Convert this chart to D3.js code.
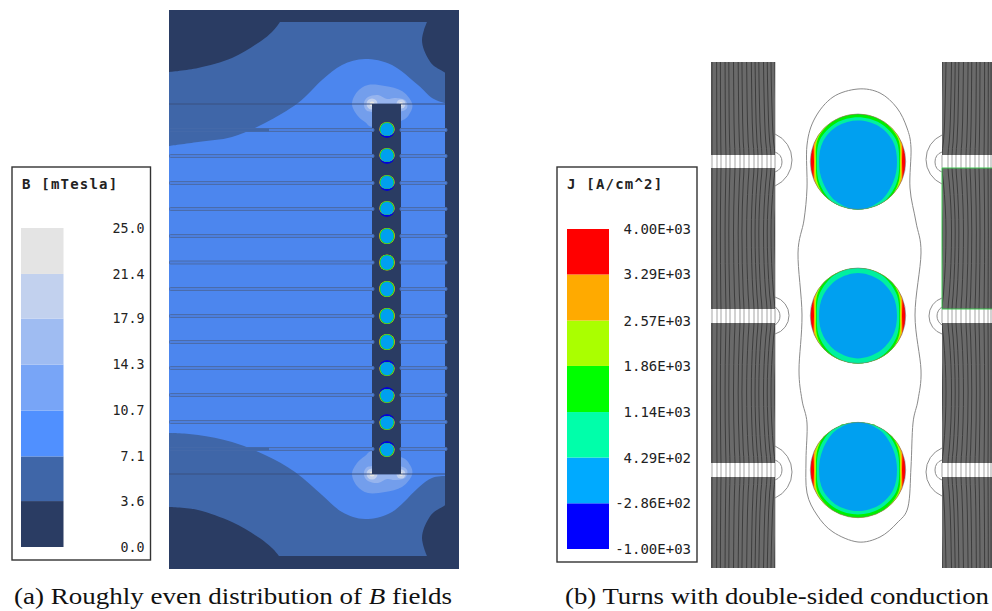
<!DOCTYPE html>
<html>
<head>
<meta charset="utf-8">
<style>
  html, body { margin: 0; padding: 0; background: #fff; }
  svg { display: block; }
  .legend-title, .legend-axis text { font-family: "DejaVu Sans Mono", monospace; fill: #222; }
  .caption { font-family: "Liberation Serif", serif; font-size: 23px; fill: #111; }
</style>
</head>
<body>
<div id="chart"></div>
<script src="https://cdn.jsdelivr.net/npm/d3@7"></script>
<script>
// Legend values
const bTicks = [0, 3.6, 7.1, 10.7, 14.3, 17.9, 21.4, 25.0];
const bLabels = ["0.0", "3.6", "7.1", "10.7", "14.3", "17.9", "21.4", "25.0"];
const bColors = ["#2a3c63", "#3f66a8", "#5090ff", "#78a5f7", "#9fbcf2", "#c2d1ee", "#e4e4e4"];
const jTicks = [-1000, -286, 429, 1140, 1860, 2570, 3290, 4000];
const jLabels = ["-1.00E+03", "-2.86E+02", "4.29E+02", "1.14E+03", "1.86E+03", "2.57E+03", "3.29E+03", "4.00E+03"];
const jColors = ["#0000ff", "#00aaff", "#00ffaa", "#00ff00", "#aaff00", "#ffaa00", "#ff0000"];

// Panel (a) field contours, in panel units
const darkTopLeft = [[0, 62], [29, 58], [63, 48], [89, 33], [103, 22], [111, 12]];
const darkBottomLeft = [[0, 497], [29, 500], [63, 512], [89, 527], [103, 538], [110, 546]];
const darkTopRight = [[258, 12], [255, 20], [253, 30], [255, 40], [260, 50], [265, 56], [275, 62], [276, 63]];
const darkBottomRight = [[258, 546], [255, 538], [253, 528], [255, 518], [260, 508], [265, 502], [275, 496], [276, 495]];
const blueTopEdge = [[0, 136], [29, 132], [63, 127], [96, 113], [129, 93], [153, 70], [173, 55], [196, 49], [223, 55], [249, 75], [263, 88], [276, 93]];
const blueBottomEdge = [[276, 466], [263, 468], [249, 478], [223, 502], [196, 509], [173, 502], [153, 485], [126, 462], [96, 445], [63, 432], [29, 425], [0, 423]];
const haloOuter = [[183, 94], [188, 82], [199, 75], [216, 76], [233, 81], [243, 93], [241, 103], [232, 111], [205, 117], [196, 112], [188, 105]];
const haloInner = [[195, 93], [199, 87], [209, 85], [218, 89], [226, 88], [236, 90], [238, 98], [229, 102], [205, 102], [197, 100]];
const hotSpots = [[203, 94, 5.5, 2.5], [232, 94, 4.5, 2]];
const turnRows = [120, 146, 173, 199, 226, 252.5, 279, 306, 332, 358, 385, 412, 439];
const turnKinds = ["top", "top", "top", "top", "mid", "mid", "mid", "mid", "mid", "bot", "bot", "bot", "bot"];

// Current density levels: inset from the conductor edge at each angle from the top
const levelAngles = [0, 30, 60, 90, 120, 150, 180];
const bigLevels = {
  top: [
    ["#ffaa00", [-8, -8, -1.6, 3.7, -1.6, -8, -10]],
    ["#aaff00", [-8, -5, 0.2, 4.8, 0.2, -5, -10]],
    ["#00ee00", [0, 0, 1.5, 5.7, 1.8, -3, -8]],
    ["#00f0a0", [3.3, 3.3, 3.8, 6.5, 3.5, -0.5, -5]],
    ["#00a0f0", [6.6, 6.6, 7.3, 8.7, 7, 2.5, -0.5]]
  ],
  mid: [
    ["#ffaa00", [-8, -8, -1.6, 3.7, -1.6, -8, -8]],
    ["#aaff00", [-8, -5, 0.2, 4.8, 0.2, -5, -8]],
    ["#00ee00", [-6, -2.5, 1.5, 5.7, 1.5, -2.5, -6]],
    ["#00f0a0", [-1, 0.8, 3.5, 6.5, 3.5, 0.8, -1]],
    ["#00a0f0", [5, 6, 7.5, 8.7, 7.5, 6, 5]]
  ],
  bot: [
    ["#ffaa00", [-10, -8, -1.6, 3.7, -1.6, -8, -8]],
    ["#aaff00", [-10, -5, 0.2, 4.8, 0.2, -5, -8]],
    ["#00ee00", [-8, -3, 1.8, 5.7, 1.5, 0, 0]],
    ["#00f0a0", [-5, -0.5, 3.5, 6.5, 3.8, 3.3, 3.3]],
    ["#00a0f0", [-0.5, 2.5, 7, 8.7, 7.3, 6.6, 6.6]]
  ]
};
const smallLevels = {
  top: [
    ["#e0b000", [-1, -1, -0.3, 0.2, 1, 1.8, 2.5]],
    ["#00dd44", [0.2, 0.3, 0.6, 0.8, 1.3, 1.8, 2.5]],
    ["#00a0f0", [1, 1.1, 1.4, 1.6, 1.6, 1.8, 2.5]]
  ],
  mid: [
    ["#c0c000", [-1, -1, -0.5, 0.2, -0.5, -1, -1]],
    ["#00dd44", [0.2, 0.3, 0.6, 0.8, 0.6, 0.3, 0.2]],
    ["#00a0f0", [1, 1.1, 1.4, 1.6, 1.4, 1.1, 1]]
  ],
  bot: [
    ["#e0b000", [2.5, 1.8, 1, 0.2, -0.3, -1, -1]],
    ["#00dd44", [2.5, 1.8, 1.3, 0.8, 0.6, 0.3, 0.2]],
    ["#00a0f0", [2.5, 1.8, 1.6, 1.6, 1.4, 1.1, 1]]
  ]
};

// Panel (b) geometry, in panel units
const conductors = [["top", 147, 99.7], ["mid", 147, 253.7], ["bot", 147, 408]];
const fluxOutline = [[147, 27], [169, 31], [186, 46], [196, 66], [200, 86], [199, 126], [205, 160], [210, 191], [204, 253], [210, 308], [207, 338], [202, 361], [200, 405], [197, 445], [186, 461], [169, 475], [147, 480], [122, 470], [106, 453], [96, 431], [95, 398], [96, 361], [91, 338], [88, 308], [91, 253], [87, 191], [93, 158], [96, 126], [96, 83], [104, 56], [122, 35]];
// arcs by the winding gaps: edge x, start row, end row, bulge
const gapArcs = [
  [64, 72, 124, 17], [64, 90, 110, 7],
  [64, 235, 272, 14], [64, 245, 263, 5],
  [64, 384, 436, 17], [64, 398, 418, 7],
  [231, 73, 122, -16], [231, 90, 110, -7],
  [231, 236, 272, -13], [231, 245, 263, -5],
  [231, 386, 434, -16], [231, 398, 418, -7]
];
const gaps = [[93, 106], [247, 261], [401, 415]];
const leftTurns = [1, 6, 10, 15, 19, 24, 29, 33, 38, 43, 47, 51, 56, 60, 64];
const rightTurns = [231, 237, 241, 245, 250, 255, 259, 264, 268, 273, 277, 280];
const bowRows = [0, 40, 80, 93, 106, 120, 170, 233, 247, 261, 275, 330, 388, 401, 415, 430, 470, 506];
const bowAmount = [1, 0.8, 0.35, 0, 0, 0.35, 1, 0.35, 0, 0, 0.35, 1, 0.35, 0, 0, 0.35, 0.8, 1];

const width = 992;
const height = 611;

const svg = d3.select("#chart").append("svg").attr("width", width).attr("height", height);
const defs = svg.append("defs");

const xA = d3.scaleLinear().domain([0, 290]).range([169, 459]);
const yA = d3.scaleLinear().domain([0, 559]).range([10, 569]);
const xB = d3.scaleLinear().domain([0, 281]).range([711, 992]);
const yB = d3.scaleLinear().domain([0, 514]).range([62, 576]);

const blob = (x, y) => d3.line().x(d => x(d[0])).y(d => y(d[1])).curve(d3.curveCardinalClosed.tension(0));
const ringPath = d3.lineRadial().angle(d => d.a).radius(d => d.r).curve(d3.curveCardinalClosed.tension(0));

// Panel (a)
const panelA = svg.append("g");
panelA.append("rect").attr("x", xA(0)).attr("y", yA(0)).attr("width", xA(290) - xA(0)).attr("height", yA(559) - yA(0)).attr("fill", "#2a3c63");
panelA.append("rect").attr("x", xA(0)).attr("y", yA(12)).attr("width", xA(276) - xA(0)).attr("height", yA(546) - yA(12)).attr("fill", "#3f66a8");

const lineA = d3.line().x(d => xA(d[0])).y(d => yA(d[1])).curve(d3.curveCardinal.tension(0));
[[darkTopLeft, 0, 12], [darkBottomLeft, 0, 546], [darkTopRight, 276, 12], [darkBottomRight, 276, 546]].forEach(d => {
  panelA.append("path").attr("d", lineA(d[0]) + `L${xA(d[1])},${yA(d[2])}Z`).attr("fill", "#2a3c63");
});

panelA.append("path")
  .attr("d", lineA(blueTopEdge) + lineA(blueBottomEdge).replace("M", "L") + "Z")
  .attr("fill", "#4c86ee");

// halos around the two bar ends, the bottom pair mirrors the top pair
const mirror = pts => pts.map(d => [d[0], 558 - d[1]]);
const blobA = blob(xA, yA);
[haloOuter, mirror(haloOuter)].forEach(p => panelA.append("path").attr("d", blobA(p)).attr("fill", "#739eec"));
[haloInner, mirror(haloInner)].forEach(p => panelA.append("path").attr("d", blobA(p)).attr("fill", "#96b4ee"));
hotSpots.forEach(d => {
  [94, 464].forEach(row => {
    panelA.append("circle").attr("cx", xA(d[0])).attr("cy", yA(row)).attr("r", d[2]).attr("fill", "#c2d1ee");
    panelA.append("circle").attr("cx", xA(d[0])).attr("cy", yA(row)).attr("r", d[3]).attr("fill", "#e8e8e4");
  });
});

[94, 464].forEach(row => {
  panelA.append("line").attr("x1", xA(0)).attr("x2", xA(276)).attr("y1", yA(row)).attr("y2", yA(row))
    .attr("stroke", "#3a5080").attr("stroke-width", 1.2);
});

// slot bar, then the turn rows that just reach over its edges
panelA.append("rect").attr("x", xA(203)).attr("y", yA(94)).attr("width", xA(232) - xA(203)).attr("height", yA(464) - yA(94)).attr("fill", "#2a3c63");

turnRows.forEach((row, i) => {
  const edge = i === 0 || i === turnRows.length - 1;
  [[0.5, 205], [231, 278]].forEach(seg => {
    panelA.append("rect")
      .attr("x", xA(seg[0])).attr("y", yA(row) - 1.5)
      .attr("width", xA(seg[1]) - xA(seg[0])).attr("height", 3).attr("rx", 1)
      .attr("fill", "#4b7fdf").attr("stroke", "#4a6cab").attr("stroke-width", 1);
  });
  if (edge) {
    panelA.append("rect").attr("x", xA(0)).attr("y", yA(row) - 1.5).attr("width", xA(100) - xA(0)).attr("height", 3).attr("fill", "#3f66a8");
  }
});

function drawConductor(g, id, cx, cy, R, levels, base) {
  defs.append("clipPath").attr("id", id).append("circle").attr("cx", cx).attr("cy", cy).attr("r", R);
  const c = g.append("g").attr("clip-path", `url(#${id})`);
  c.append("circle").attr("cx", cx).attr("cy", cy).attr("r", R).attr("fill", base);
  const n = levelAngles.length;
  levels.forEach(level => {
    const pts = [];
    for (let i = 0; i < n; i++) pts.push({ a: levelAngles[i] * Math.PI / 180, r: R - level[1][i] });
    for (let i = n - 2; i > 0; i--) pts.push({ a: (360 - levelAngles[i]) * Math.PI / 180, r: R - level[1][i] });
    c.append("path").attr("transform", `translate(${cx},${cy})`).attr("d", ringPath(pts)).attr("fill", level[0]);
  });
}

turnRows.forEach((row, i) => {
  drawConductor(panelA, "small" + i, xA(218), yA(row), 8, smallLevels[turnKinds[i]], turnKinds[i] === "mid" ? "#e08a10" : "#0000dd");
});

// Panel (b) windings
const panelB = svg.append("g");
const blockH = yB(506) - yB(0);
[[0, 64, "leftBlock"], [231, 281, "rightBlock"]].forEach(b => {
  defs.append("clipPath").attr("id", b[2]).append("rect").attr("x", xB(b[0])).attr("y", yB(0)).attr("width", xB(b[1]) - xB(b[0])).attr("height", blockH);
  panelB.append("rect").attr("x", xB(b[0])).attr("y", yB(0)).attr("width", xB(b[1]) - xB(b[0])).attr("height", blockH).attr("fill", "#6a6a6a");
});

const turnLine = d3.line().x(d => d[0]).y(d => d[1]).curve(d3.curveMonotoneY);
const leftG = panelB.append("g").attr("clip-path", "url(#leftBlock)");
leftTurns.concat([68, 72]).forEach(t => {
  leftG.append("path")
    .attr("d", turnLine(bowRows.map((r, i) => [xB(t - bowAmount[i] * t / 64 * 4), yB(r)])))
    .attr("fill", "none").attr("stroke", "#3d3d3d").attr("stroke-width", 1);
});
const rightG = panelB.append("g").attr("clip-path", "url(#rightBlock)");
[223, 227].concat(rightTurns).forEach(t => {
  rightG.append("path")
    .attr("d", turnLine(bowRows.map((r, i) => [xB(t + bowAmount[i] * (281 - t) / 50 * 4), yB(r)])))
    .attr("fill", "none").attr("stroke", "#3d3d3d").attr("stroke-width", 1);
});

[[leftTurns, 0, 64], [rightTurns, 231, 281]].forEach(b => {
  gaps.forEach(gap => {
    panelB.append("rect").attr("x", xB(b[1])).attr("y", yB(gap[0])).attr("width", xB(b[2]) - xB(b[1])).attr("height", yB(gap[1]) - yB(gap[0])).attr("fill", "#fff");
    b[0].forEach(t => {
      panelB.append("line").attr("x1", xB(t)).attr("x2", xB(t)).attr("y1", yB(gap[0])).attr("y2", yB(gap[1]))
        .attr("stroke", "#adadad").attr("stroke-width", 1.1);
    });
  });
});
panelB.append("line").attr("x1", xB(64.5)).attr("x2", xB(64.5)).attr("y1", yB(0)).attr("y2", yB(506)).attr("stroke", "#cfcfcf").attr("stroke-width", 1);

// highlighted middle turn on the right block
panelB.append("path")
  .attr("d", `M${xB(281)},${yB(106)}H${xB(231)}V${yB(247)}H${xB(281)}`)
  .attr("fill", "none").attr("stroke", "#3fc850").attr("stroke-width", 1);

gapArcs.forEach(a => {
  // circular arc through both ends and the bulge
  const chord = yB(a[2]) - yB(a[1]);
  const s = Math.abs(a[3]);
  const r = (chord * chord / 4 + s * s) / (2 * s);
  const sweep = a[3] > 0 ? 1 : 0;
  panelB.append("path")
    .attr("d", `M${xB(a[0])},${yB(a[1])}A${r},${r} 0 0 ${sweep} ${xB(a[0])},${yB(a[2])}`)
    .attr("fill", "none").attr("stroke", "#8f8f8f").attr("stroke-width", 1);
});
panelB.append("path").attr("d", blob(xB, yB)(fluxOutline)).attr("fill", "none").attr("stroke", "#8a8a8a").attr("stroke-width", 1);

conductors.forEach((c, i) => {
  drawConductor(panelB, "big" + i, xB(c[1]), yB(c[2]), 47.7, bigLevels[c[0]], "#ff0000");
  panelB.append("circle").attr("cx", xB(c[1])).attr("cy", yB(c[2])).attr("r", 47.7).attr("fill", "none").attr("stroke", "#777").attr("stroke-width", 0.6);
});

// Legends
function drawLegend(box, barX, range, title, ticks, labels, colors, labelX, labelSize) {
  const g = svg.append("g");
  g.append("rect").attr("x", box[0]).attr("y", box[1]).attr("width", box[2] - box[0]).attr("height", box[3] - box[1])
    .attr("fill", "#fff").attr("stroke", "#333").attr("stroke-width", 1.4);
  const y = d3.scaleLinear().domain(d3.extent(ticks)).range(range);
  colors.forEach((c, i) => {
    g.append("rect").attr("x", barX[0]).attr("width", barX[1] - barX[0])
      .attr("y", y(ticks[i + 1])).attr("height", y(ticks[i]) - y(ticks[i + 1])).attr("fill", c);
  });
  const axis = g.append("g").attr("class", "legend-axis")
    .attr("transform", `translate(${labelX},0)`)
    .call(d3.axisRight(y).tickValues(ticks).tickSize(0).tickPadding(0).tickFormat((d, i) => labels[i]));
  axis.select(".domain").remove();
  axis.selectAll("text").attr("text-anchor", "end").style("font-size", labelSize + "px");
  g.append("text").attr("class", "legend-title").attr("x", barX[0] + (title[0] === "B" ? 1 : 0)).attr("y", box[1] + 22)
    .attr("font-size", 14).attr("font-weight", "bold").attr("letter-spacing", 1.2).text(title);
}
drawLegend([12, 167, 150.5, 560], [21, 63.5], [547, 228], "B [mTesla]", bTicks, bLabels, bColors, 144.5, 13.3);
drawLegend([557, 167, 697, 562], [567, 609], [549, 229], "J [A/cm^2]", jTicks, jLabels, jColors, 691, 14);

// Captions
const capA = svg.append("text").attr("class", "caption").attr("x", 14).attr("y", 604)
  .attr("textLength", 438).attr("lengthAdjust", "spacingAndGlyphs");
capA.append("tspan").text("(a) Roughly even distribution of ");
capA.append("tspan").attr("font-style", "italic").text("B");
capA.append("tspan").text(" fields");
svg.append("text").attr("class", "caption").attr("x", 565).attr("y", 604)
  .attr("textLength", 424).attr("lengthAdjust", "spacingAndGlyphs")
  .text("(b) Turns with double-sided conduction");
</script>
</body>
</html>
